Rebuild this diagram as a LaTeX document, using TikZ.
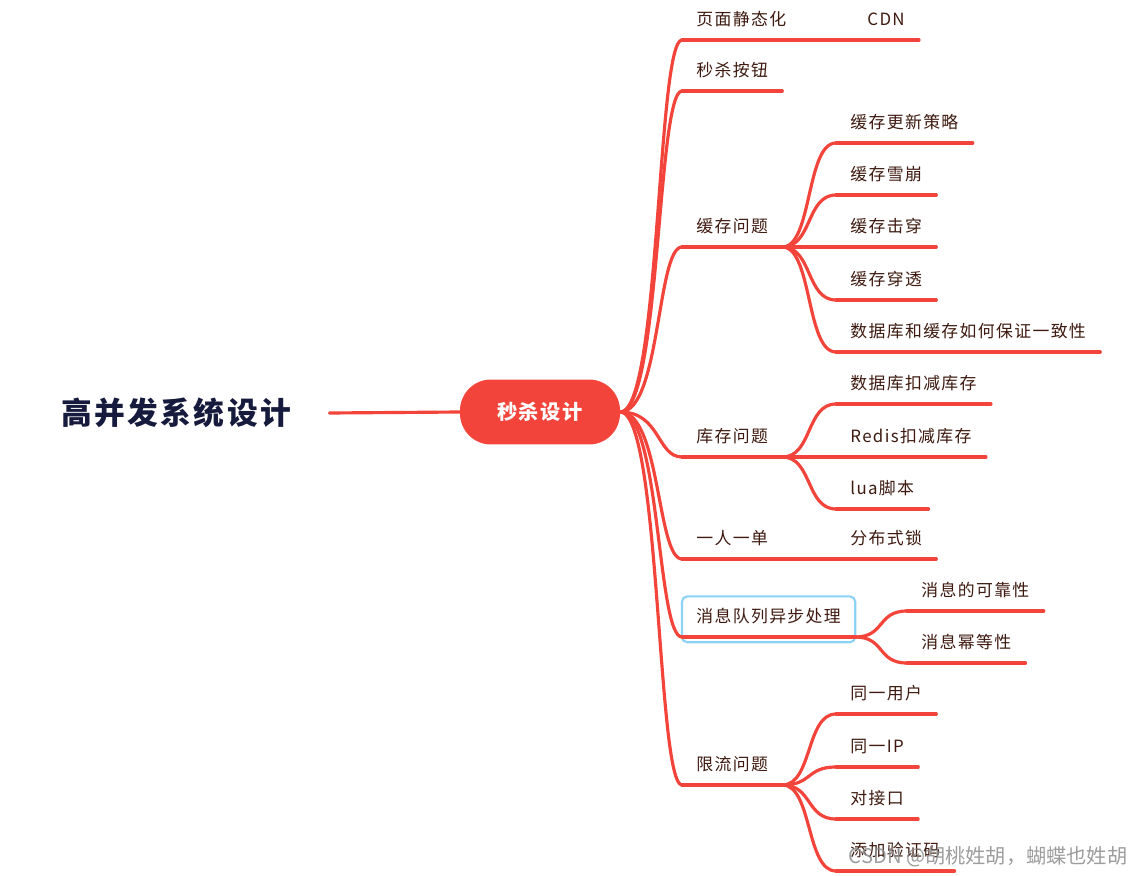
\documentclass[tikz,border=0pt]{standalone}
\usepackage{fontspec}
\newfontfamily\cjk[LetterSpace=8]{Noto Sans CJK SC}
\newfontfamily\cjkplain{Noto Sans CJK SC}
\definecolor{mindred}{RGB}{242,68,58}
\definecolor{leaftext}{RGB}{62,26,16}
\definecolor{titletext}{RGB}{22,26,60}
\definecolor{selblue}{RGB}{140,210,245}
\begin{document}
\begin{tikzpicture}[x=0.02cm, y=-0.02cm,
    link/.style={draw=mindred, line width=1.8pt, line cap=round},
    topic/.style={anchor=south west, inner xsep=8pt, inner ysep=6.6pt,
        text height=8pt, text depth=1.5pt, text=leaftext,
        font=\cjk\fontsize{9.6}{11}\selectfont},
    central/.style={fill=mindred, rounded corners=0.62cm, minimum width=3.2cm,
        minimum height=1.3cm, text=white, font=\cjk\bfseries\fontsize{11.5}{13}\selectfont},
    selbox/.style={draw=selblue, line width=1.2pt, rounded corners=3pt}]
    \fill[white] (0,0) rectangle (1137,876);
    \useasboundingbox (0,0) rectangle (1137,876);
    \def\xa{682}
    \def\xb{836}
    % root and central topic
    \node[inner xsep=0.76cm, text=titletext, font=\cjk\bfseries\fontsize{17.5}{20}\selectfont]
        (title) at (176,413) {高并发系统设计};
    \node[central] (cen) at (540,412) {秒杀设计};
    \draw[link] (title.east) -- (cen.west);
    % first level
    \node[topic] (ymjt) at (\xa,40) {页面静态化};
    \node[topic] (msan) at (\xa,91) {秒杀按钮};
    \node[topic] (hcwt) at (\xa,247) {缓存问题};
    \node[topic] (kcwt) at (\xa,457) {库存问题};
    \node[topic] (yryd) at (\xa,559) {一人一单};
    \node[topic] (xxdl) at (\xa,637) {消息队列异步处理};
    \node[topic] (xlwt) at (\xa,785) {限流问题};
    \draw[selbox] ([yshift=-3pt]xxdl.south west) rectangle (xxdl.north east);
    \foreach \n in {ymjt,msan,hcwt,kcwt,yryd,xxdl,xlwt}
        \draw[link] (cen.east) .. controls +(40,0) and +(-25,0) .. (\n.south west);
    % second level
    \node[topic] (cdn) at (853,40) {CDN};
    \node[topic] (gxcl) at (\xb,143) {缓存更新策略};
    \node[topic] (hcxb) at (\xb,195) {缓存雪崩};
    \node[topic] (hcjc) at (\xb,247) {缓存击穿};
    \node[topic] (hcct) at (\xb,300) {缓存穿透};
    \node[topic] (yzx) at (\xb,352) {数据库和缓存如何保证一致性};
    \node[topic] (sjkj) at (\xb,404) {数据库扣减库存};
    \node[topic] (redis) at (\xb,457) {Redis扣减库存};
    \node[topic] (lua) at (\xb,509) {lua脚本};
    \node[topic] (fbss) at (\xb,559) {分布式锁};
    \node[topic] (kkx) at (907,611) {消息的可靠性};
    \node[topic] (mdx) at (907,663) {消息幂等性};
    \node[topic] (tyyh) at (\xb,714) {同一用户};
    \node[topic] (tyip) at (\xb,767) {同一IP};
    \node[topic] (djk) at (\xb,819) {对接口};
    \node[topic] (yzm) at (\xb,871) {添加验证码};
    \draw[link] (ymjt.south east) -- (cdn.south west);
    \draw[link] (yryd.south east) -- (fbss.south west);
    \foreach \n in {gxcl,hcxb,hcjc,hcct,yzx}
        \draw[link] (hcwt.south east) .. controls +(30,0) and +(-30,0) .. (\n.south west);
    \foreach \n in {sjkj,redis,lua}
        \draw[link] (kcwt.south east) .. controls +(30,0) and +(-30,0) .. (\n.south west);
    \foreach \n in {kkx,mdx}
        \draw[link] (xxdl.south east) .. controls +(30,0) and +(-30,0) .. (\n.south west);
    \foreach \n in {tyyh,tyip,djk,yzm}
        \draw[link] (xlwt.south east) .. controls +(30,0) and +(-30,0) .. (\n.south west);
    % underlines
    \foreach \n in {ymjt,msan,hcwt,kcwt,yryd,xxdl,xlwt,cdn,gxcl,hcxb,hcjc,hcct,yzx,
            sjkj,redis,lua,fbss,kkx,mdx,tyyh,tyip,djk,yzm}
        \draw[link] (\n.south west) -- (\n.south east);
    % watermark
    \node[text=black!45, opacity=0.85, font=\cjkplain\fontsize{11.5}{14}\selectfont]
        (wm) at (988,857) {CSDN @胡桃姓胡，蝴蝶也姓胡};
\end{tikzpicture}
\end{document}
